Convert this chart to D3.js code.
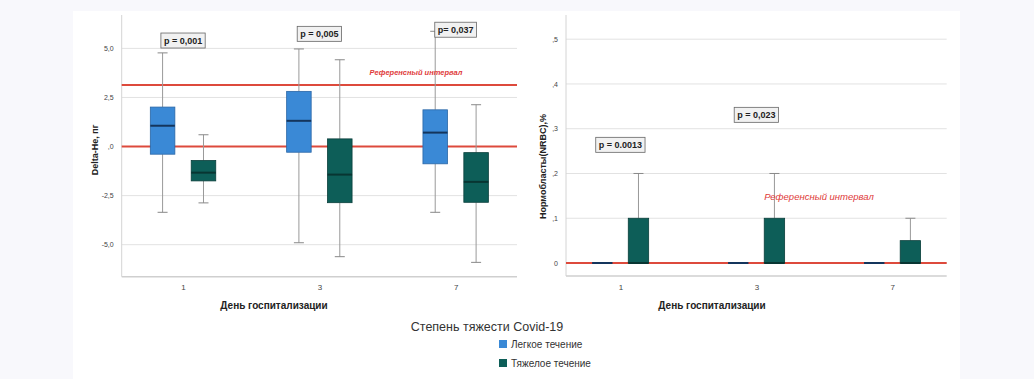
<!DOCTYPE html>
<html><head><meta charset="utf-8">
<script src="https://cdn.jsdelivr.net/npm/d3@7"></script>
<style>
html,body{margin:0;padding:0;background:#f8f8fc;}
svg{display:block;font-family:"Liberation Sans",Arial,sans-serif;}
</style></head>
<body>
<svg id="c" width="1034" height="379"></svg>
<script>
// ---- data ----
const days = ["1", "3", "7"];
const groups = ["Легкое течение", "Тяжелое течение"];
const legendTitle = "Степень тяжести Covid-19";
const xTitle = "День госпитализации";

// Left panel: Delta-He, пг (box stats per day)
const heLightMin = [-3.35, -4.9, -3.35];
const heLightQ1 = [-0.39, -0.29, -0.88];
const heLightMed = [1.06, 1.31, 0.71];
const heLightQ3 = [2.01, 2.81, 1.87];
const heLightMax = [4.77, 4.97, 5.87];
const heSevereMin = [-2.87, -5.61, -5.9];
const heSevereQ1 = [-1.75, -2.86, -2.84];
const heSevereMed = [-1.33, -1.43, -1.8];
const heSevereQ3 = [-0.71, 0.39, -0.31];
const heSevereMax = [0.6, 4.42, 2.13];
const heTicks = [-5, -2.5, 0, 2.5, 5];
const heTickLabels = ["-5,0", "-2,5", ",0", "2,5", "5,0"];
const heRef = [0, 3.13];
const heP = ["p = 0,001", "p = 0,005", "p= 0,037"];
const hePy = [5.4, 5.74, 5.95];

// Right panel: NRBC, %
const nrLightMin = [0, 0, 0];
const nrLightQ1 = [0, 0, 0];
const nrLightMed = [0, 0, 0];
const nrLightQ3 = [0, 0, 0];
const nrLightMax = [0, 0, 0];
const nrSevereMin = [0, 0, 0];
const nrSevereQ1 = [0, 0, 0];
const nrSevereMed = [0, 0, 0];
const nrSevereQ3 = [0.1, 0.1, 0.05];
const nrSevereMax = [0.2, 0.2, 0.1];
const nrTicks = [0, 0.1, 0.2, 0.3, 0.4, 0.5];
const nrTickLabels = ["0", ",1", ",2", ",3", ",4", ",5"];
const nrRef = [0];
const nrP = ["p = 0.0013", "p = 0,023"];
const nrPday = ["1", "3"];
const nrPy = [0.264, 0.331];
const refLabel = "Референсный интервал";

const colors = ["#3a89d6", "#0d5e58"];
const strokes = ["#2a66a6", "#0a3f3b"];
const medColors = ["#14355c", "#083532"];

const svg = d3.select("#c");
svg.append("rect").attr("x", 73).attr("y", 11).attr("width", 887).attr("height", 368).attr("fill", "#ffffff");

function panel(o) {
  const g = svg.append("g");
  const x = d3.scalePoint().domain(days).range([o.x0, o.x1]).padding(o.pad);
  const y = d3.scaleLinear().domain(o.dom).range([o.y1, o.y0]);
  const step = x.step();
  // gridlines
  g.append("g").selectAll("line").data(o.ticks).join("line")
    .attr("x1", o.x0).attr("x2", o.x1)
    .attr("y1", d => y(d)).attr("y2", d => y(d))
    .attr("stroke", "#e2e2e2").attr("stroke-width", 1);
  // axes
  const ya = d3.axisLeft(y).tickValues(o.ticks).tickFormat((d, i) => o.tickLabels[i]).tickSize(0).tickPadding(8);
  const yg = g.append("g").attr("transform", `translate(${o.x0},0)`).call(ya);
  yg.select(".domain").attr("stroke", "#d4d4d4").attr("d", `M0,${o.y0}V${o.y1}`);
  yg.selectAll("text").attr("font-size", 7).attr("fill", "#444");
  const xa = d3.axisBottom(x).tickSize(0).tickPadding(8);
  const xg = g.append("g").attr("transform", `translate(0,${o.y1})`).call(xa);
  xg.select(".domain").attr("stroke", "#cfcfcf").attr("stroke-width", 1.5).attr("d", `M${o.x0},0H${o.x1}`);
  xg.selectAll("text").attr("font-size", 8).attr("fill", "#444");
  // reference lines
  g.append("g").selectAll("line").data(o.ref).join("line")
    .attr("x1", o.x0).attr("x2", o.x1)
    .attr("y1", d => y(d)).attr("y2", d => y(d))
    .attr("stroke", "#dd4a3c").attr("stroke-width", 2);
  // boxes
  o.series.forEach((s, gi) => {
    const off = (gi === 0 ? -1 : 1) * step * o.offF;
    const w = step * o.wF;
    const bg = g.append("g");
    days.forEach((d, i) => {
      const cx = x(d) + off;
      if (s.max[i] > s.q3[i]) {
        bg.append("line").attr("x1", cx).attr("x2", cx).attr("y1", y(s.q3[i])).attr("y2", y(s.max[i])).attr("stroke", "#999").attr("stroke-width", 1);
        bg.append("line").attr("x1", cx - 5).attr("x2", cx + 5).attr("y1", y(s.max[i])).attr("y2", y(s.max[i])).attr("stroke", "#888").attr("stroke-width", 1);
      }
      if (s.min[i] < s.q1[i]) {
        bg.append("line").attr("x1", cx).attr("x2", cx).attr("y1", y(s.q1[i])).attr("y2", y(s.min[i])).attr("stroke", "#999").attr("stroke-width", 1);
        bg.append("line").attr("x1", cx - 5).attr("x2", cx + 5).attr("y1", y(s.min[i])).attr("y2", y(s.min[i])).attr("stroke", "#888").attr("stroke-width", 1);
      }
      const h = y(s.q1[i]) - y(s.q3[i]);
      if (h > 0.5) {
        bg.append("rect").attr("x", cx - w / 2).attr("y", y(s.q3[i])).attr("width", w).attr("height", h)
          .attr("fill", colors[gi]).attr("stroke", strokes[gi]).attr("stroke-width", 0.8);
      }
      bg.append("line").attr("x1", cx - w / 2).attr("x2", cx + w / 2).attr("y1", y(s.med[i])).attr("y2", y(s.med[i]))
        .attr("stroke", medColors[gi]).attr("stroke-width", 2);
    });
  });
  // reference label
  g.append("text").attr("x", o.refX).attr("y", y(o.refY)).attr("text-anchor", "middle").attr("dominant-baseline", "central")
    .attr("font-size", o.refSize).attr("font-style", "italic").attr("font-weight", o.refWeight).attr("fill", "#e03a3a").text(refLabel);
  // p labels
  o.p.forEach((t, i) => {
    const cx = x(o.pDay[i]), cy = y(o.pY[i]);
    const tx = g.append("text").attr("x", cx).attr("y", cy).attr("text-anchor", "middle").attr("dominant-baseline", "central")
      .attr("font-size", 9).attr("font-weight", "bold").attr("fill", "#222").text(t);
    const bb = tx.node().getBBox();
    g.insert("rect", () => tx.node()).attr("x", bb.x - 3).attr("y", cy - 7.5).attr("width", bb.width + 6).attr("height", 15)
      .attr("fill", "#f1f1f1").attr("stroke", "#666").attr("stroke-width", 0.8);
  });
  // titles
  g.append("text").attr("transform", `translate(${o.ylx},${(o.y0 + o.y1) / 2 + o.ylShift}) rotate(-90)`).attr("text-anchor", "middle")
    .attr("dominant-baseline", "central").attr("font-size", 9).attr("font-weight", "bold").attr("fill", "#222").text(o.yTitle);
  g.append("text").attr("x", o.xtx).attr("y", 305).attr("text-anchor", "middle").attr("dominant-baseline", "central")
    .attr("font-size", 10).attr("font-weight", "bold").attr("fill", "#222").text(xTitle);
}

panel({
  x0: 121.7, x1: 517, y0: 15, y1: 276.7, dom: [-6.63, 6.7], pad: 0.45,
  ticks: heTicks, tickLabels: heTickLabels, ref: heRef,
  offF: 0.15, wF: 0.18,
  series: [
    {min: heLightMin, q1: heLightQ1, med: heLightMed, q3: heLightQ3, max: heLightMax},
    {min: heSevereMin, q1: heSevereQ1, med: heSevereMed, q3: heSevereQ3, max: heSevereMax}
  ],
  refX: 416, refY: 3.78, refSize: 7.5, refWeight: "bold",
  p: heP, pDay: days, pY: hePy,
  yTitle: "Delta-He, пг", ylx: 95, ylShift: 4, xtx: 274
});

panel({
  x0: 566, x1: 946.7, y0: 15, y1: 276, dom: [-0.029, 0.554], pad: 0.4,
  ticks: nrTicks, tickLabels: nrTickLabels, ref: nrRef,
  offF: 0.133, wF: 0.15,
  series: [
    {min: nrLightMin, q1: nrLightQ1, med: nrLightMed, q3: nrLightQ3, max: nrLightMax},
    {min: nrSevereMin, q1: nrSevereQ1, med: nrSevereMed, q3: nrSevereQ3, max: nrSevereMax}
  ],
  refX: 819, refY: 0.148, refSize: 9.5, refWeight: "normal",
  p: nrP, pDay: nrPday, pY: nrPy,
  yTitle: "Нормобласты(NRBC),%", ylx: 543, ylShift: 21, xtx: 712
});

// legend
const lg = svg.append("g");
lg.append("text").attr("x", 487).attr("y", 327).attr("text-anchor", "middle").attr("dominant-baseline", "central")
  .attr("font-size", 12.5).attr("fill", "#333").text(legendTitle);
groups.forEach((gname, i) => {
  const yy = 344 + i * 19;
  lg.append("rect").attr("x", 499).attr("y", yy - 4).attr("width", 8).attr("height", 8).attr("fill", colors[i]);
  lg.append("text").attr("x", 511).attr("y", yy).attr("dominant-baseline", "central").attr("font-size", 10).attr("fill", "#333").text(gname);
});
</script>
</body></html>
